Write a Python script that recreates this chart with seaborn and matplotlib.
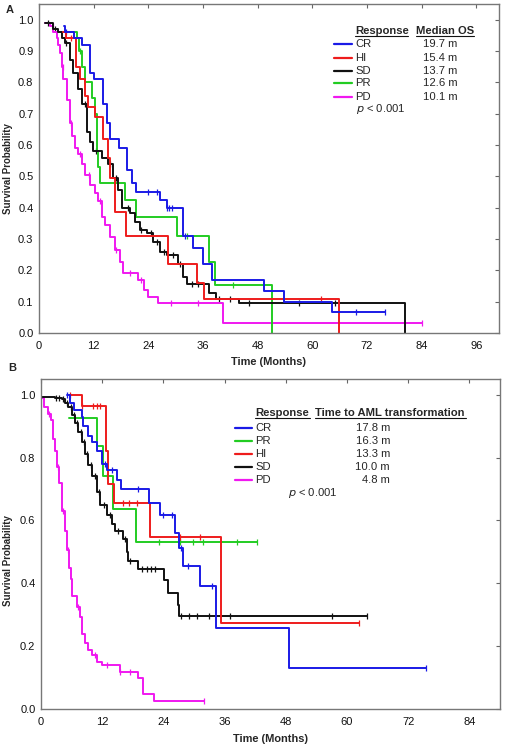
import numpy as np
import pandas as pd
import matplotlib.pyplot as plt
import seaborn as sns
from matplotlib.lines import Line2D

# ---- panel A: overall survival by response ----
a_cr_t = [5.5, 5.7, 7.7, 9.5, 11.2, 12.0, 14.0, 15.0, 15.6, 17.5, 19.3, 20.4, 21.4, 26.5, 28.0, 31.6, 33.8, 36.0, 38.0, 49.3, 53.7, 64.3, 76.0]
a_cr_s = [0.98, 0.96, 0.94, 0.92, 0.83, 0.81, 0.73, 0.67, 0.62, 0.59, 0.52, 0.48, 0.45, 0.425, 0.40, 0.31, 0.27, 0.22, 0.17, 0.134, 0.10, 0.067, 0.067]
a_cr_c = [6.0, 23.9, 25.9, 28.0, 28.6, 29.2, 32.0, 69.7, 76.0]

a_hi_t = [5.3, 6.0, 8.2, 9.0, 10.0, 10.8, 12.3, 14.0, 15.2, 15.6, 16.7, 19.1, 28.3, 34.6, 36.2, 65.8]
a_hi_s = [0.96, 0.94, 0.85, 0.81, 0.755, 0.72, 0.69, 0.62, 0.56, 0.495, 0.385, 0.31, 0.22, 0.16, 0.11, 0.0]
a_hi_c = [7.0, 62.0]

a_sd_t = [1.3, 3.0, 4.2, 5.0, 5.7, 6.8, 7.5, 8.6, 9.4, 10.5, 11.2, 11.8, 13.8, 15.1, 16.2, 17.3, 18.2, 20.0, 21.0, 22.1, 23.7, 25.0, 26.5, 28.0, 30.5, 31.6, 32.4, 37.3, 38.8, 44.0, 80.3]
a_sd_s = [0.99, 0.97, 0.96, 0.94, 0.925, 0.87, 0.83, 0.78, 0.73, 0.64, 0.61, 0.58, 0.56, 0.54, 0.495, 0.457, 0.40, 0.383, 0.355, 0.33, 0.32, 0.29, 0.26, 0.25, 0.22, 0.18, 0.157, 0.127, 0.11, 0.095, 0.0]
a_sd_c = [2.0, 3.5, 6.0, 10.0, 12.5, 15.5, 17.0, 19.5, 22.5, 24.5, 26.0, 27.5, 29.5, 31.0, 33.5, 35.0, 39.5, 42.0, 46.0, 57.0, 65.0]

a_pr_t = [5.5, 8.4, 8.8, 9.4, 10.1, 11.6, 12.2, 12.7, 13.0, 13.4, 18.9, 21.4, 30.2, 37.3, 38.6, 51.1]
a_pr_s = [0.96, 0.94, 0.90, 0.85, 0.80, 0.75, 0.70, 0.58, 0.53, 0.48, 0.425, 0.37, 0.31, 0.227, 0.153, 0.0]
a_pr_c = [9.0, 32.5, 42.5]

a_pd_t = [1.3, 2.4, 3.1, 3.9, 4.2, 4.6, 5.0, 5.3, 6.1, 6.8, 7.2, 7.9, 8.6, 9.4, 10.1, 11.2, 12.3, 12.9, 13.8, 14.5, 15.6, 16.7, 17.8, 18.4, 21.7, 23.0, 24.0, 26.1, 40.3, 84.2]
a_pd_s = [0.99, 0.98, 0.96, 0.94, 0.92, 0.895, 0.85, 0.81, 0.745, 0.67, 0.63, 0.59, 0.57, 0.54, 0.505, 0.473, 0.447, 0.42, 0.37, 0.345, 0.307, 0.265, 0.227, 0.19, 0.17, 0.137, 0.115, 0.096, 0.032, 0.032]
a_pd_c = [3.0, 5.2, 7.0, 9.0, 11.0, 13.5, 17.0, 20.0, 22.5, 29.0, 35.0, 84.2]

# ---- panel B: time to AML transformation ----
b_cr_t = [5.1, 5.7, 6.5, 8.0, 8.3, 9.2, 10.0, 11.0, 12.0, 13.0, 14.9, 15.7, 21.2, 23.3, 26.3, 27.0, 27.8, 31.2, 34.3, 48.6, 75.5]
b_cr_s = [1.0, 0.975, 0.95, 0.93, 0.90, 0.87, 0.85, 0.82, 0.78, 0.76, 0.73, 0.70, 0.655, 0.618, 0.56, 0.513, 0.455, 0.39, 0.258, 0.13, 0.13]
b_cr_c = [5.1, 12.5, 14.0, 19.0, 24.0, 25.7, 27.5, 28.8, 33.5, 75.5]

b_pr_t = [5.5, 10.9, 12.2, 14.2, 18.6, 42.4]
b_pr_s = [0.925, 0.838, 0.742, 0.637, 0.532, 0.532]
b_pr_c = [13.0, 23.2, 27.3, 29.8, 31.8, 38.4, 42.4]

b_hi_t = [5.7, 8.0, 12.7, 13.2, 14.3, 21.4, 35.3, 62.4]
b_hi_s = [1.0, 0.965, 0.82, 0.716, 0.655, 0.547, 0.273, 0.273]
b_hi_c = [5.7, 8.0, 10.2, 11.0, 11.6, 16.0, 17.3, 18.8, 27.3, 31.2, 62.4]

b_sd_t = [0.1, 2.7, 4.1, 4.7, 5.3, 6.0, 6.7, 7.3, 8.0, 8.6, 9.3, 10.0, 10.9, 11.6, 12.9, 13.9, 14.5, 16.1, 16.9, 17.1, 19.0, 24.1, 24.9, 26.9, 27.1, 63.9]
b_sd_s = [0.994, 0.99, 0.985, 0.975, 0.96, 0.936, 0.91, 0.88, 0.85, 0.81, 0.777, 0.74, 0.69, 0.65, 0.618, 0.59, 0.565, 0.54, 0.50, 0.47, 0.445, 0.41, 0.37, 0.33, 0.296, 0.296]
b_sd_c = [3.0, 3.6, 4.4, 5.0, 5.8, 6.5, 7.0, 7.8, 8.4, 9.0, 9.8, 10.5, 11.3, 12.3, 13.5, 15.0, 16.5, 17.5, 19.8, 20.8, 21.5, 22.3, 27.5, 29.0, 30.5, 33.0, 37.0, 57.0, 63.9]

b_pd_t = [0.2, 0.6, 1.3, 2.0, 2.4, 2.7, 3.1, 3.5, 4.1, 4.7, 5.1, 5.5, 5.8, 6.0, 7.0, 7.6, 8.0, 8.6, 9.2, 10.0, 10.9, 12.0, 15.5, 19.0, 20.0, 22.2, 32.0]
b_pd_s = [0.99, 0.96, 0.94, 0.92, 0.86, 0.82, 0.77, 0.72, 0.63, 0.565, 0.505, 0.45, 0.415, 0.36, 0.325, 0.293, 0.24, 0.21, 0.188, 0.172, 0.15, 0.14, 0.118, 0.10, 0.048, 0.025, 0.025]
b_pd_c = [1.6, 3.3, 4.4, 5.3, 7.3, 10.5, 13.0, 15.5, 17.5, 32.0]

colors = {"CR": "#1a1ae6", "HI": "#ee1c1c", "SD": "#111111", "PR": "#22cc22", "PD": "#f018f0"}

a_groups = ["CR", "HI", "SD", "PR", "PD"]
a_medians = ["19.7 m", "15.4 m", "13.7 m", "12.6 m", "10.1 m"]
b_groups = ["CR", "PR", "HI", "SD", "PD"]
b_medians = ["17.8 m", "16.3 m", "13.3 m", "10.0 m", "4.8 m"]

a_data = {"CR": (a_cr_t, a_cr_s, a_cr_c), "HI": (a_hi_t, a_hi_s, a_hi_c), "SD": (a_sd_t, a_sd_s, a_sd_c),
          "PR": (a_pr_t, a_pr_s, a_pr_c), "PD": (a_pd_t, a_pd_s, a_pd_c)}
b_data = {"CR": (b_cr_t, b_cr_s, b_cr_c), "PR": (b_pr_t, b_pr_s, b_pr_c), "HI": (b_hi_t, b_hi_s, b_hi_c),
          "SD": (b_sd_t, b_sd_s, b_sd_c), "PD": (b_pd_t, b_pd_s, b_pd_c)}

sns.set_theme(style="white")
plt.rcParams["font.family"] = ["Liberation Sans", "DejaVu Sans"]

W, H = 509, 748
fig = plt.figure(figsize=(W / 100, H / 100), dpi=100)
FS = 8.1


def fx(x):
    return x / W


def fy(y):
    return 1 - y / H


def build(data):
    rows, cens = [], []
    for g, (t, s, c) in data.items():
        for ti, si in zip(t, s):
            rows.append((g, ti, si))
        t = np.array(t)
        s = np.array(s)
        idx = np.clip(np.searchsorted(t, c, side="right") - 1, 0, None)
        for ci, si in zip(c, s[idx]):
            cens.append((g, ci, si))
    return (pd.DataFrame(rows, columns=["group", "time", "surv"]),
            pd.DataFrame(cens, columns=["group", "time", "surv"]))


def panel(ax, data, xmax, xticks, yticks):
    df, cdf = build(data)
    for g in ["PD", "PR", "SD", "HI", "CR"]:
        sns.lineplot(data=df[df.group == g], x="time", y="surv", color=colors[g],
                     drawstyle="steps-post", estimator=None, linewidth=1.4, ax=ax, legend=False)
        sns.scatterplot(data=cdf[cdf.group == g], x="time", y="surv", color=colors[g], marker="|",
                        s=22, linewidth=0.9, ax=ax, legend=False)
    ax.set_xlim(0, xmax)
    ax.set_ylim(0, 1.05)
    ax.set_xticks(xticks)
    ax.set_yticks(yticks)
    ax.set_yticklabels(["{:.1f}".format(v) for v in yticks])
    ax.tick_params(direction="in", length=3, width=0.8, color="#666666", top=True, right=True,
                   labelsize=8, labelcolor="#111111")
    ax.tick_params(axis="x", pad=5.5)
    ax.tick_params(axis="y", pad=4)
    for sp in ax.spines.values():
        sp.set_color("#777777")
        sp.set_linewidth(1.0)
    ax.set_ylabel("Survival Probability", fontsize=7, fontweight="bold")
    ax.set_xlabel("Time (Months)", fontsize=7.9, fontweight="bold")


def legend(groups, vals, x_line, y_rows, x_val, val_ha, head2, x_h2, y_head, x_p, y_p):
    fig.text(fx(x_line[1] + 3), fy(y_head), "Response", fontsize=FS, fontweight="bold",
             ha="left", va="center")
    fig.text(fx(x_h2), fy(y_head), head2, fontsize=FS, fontweight="bold", ha="left", va="center")
    for g, v, y in zip(groups, vals, y_rows):
        fig.add_artist(Line2D([fx(x_line[0]), fx(x_line[1])], [fy(y), fy(y)], color=colors[g],
                              linewidth=1.6, transform=fig.transFigure))
        fig.text(fx(x_line[1] + 3), fy(y), g, fontsize=FS, ha="left", va="center")
        fig.text(fx(x_val), fy(y), v, fontsize=FS, ha=val_ha, va="center")
    fig.text(fx(x_p), fy(y_p), r"$\it{p}$ < 0.001", fontsize=FS, ha="left", va="center")


# panel A
axA = fig.add_axes([fx(39), fy(333), fx(499) - fx(39), fy(4) - fy(333)])
panel(axA, a_data, 101, np.arange(0, 97, 12), np.round(np.arange(0, 1.01, 0.1), 1))
axA.yaxis.set_label_coords(-0.057, 0.5)
axA.xaxis.set_label_coords(0.498, -0.074)

# panel B
axB = fig.add_axes([fx(41), fy(709), fx(500) - fx(41), fy(379) - fy(709)])
panel(axB, b_data, 90, np.arange(0, 85, 12), np.round(np.arange(0, 1.01, 0.2), 1))
axB.yaxis.set_label_coords(-0.062, 0.45)
axB.xaxis.set_label_coords(0.50, -0.075)

fig.text(fx(10), fy(10), "A", fontsize=8, fontweight="bold", ha="center", va="center")
fig.text(fx(12), fy(368), "B", fontsize=8, fontweight="bold", ha="center", va="center")

legend(a_groups, a_medians, (334, 352), [44, 58, 71, 83, 97], 440, "center", "Median OS", 416, 31, 356, 109)
legend(b_groups, b_medians, (235, 252), [428, 441, 454, 467, 480], 390, "right",
       "Time to AML transformation", 315, 413, 288, 493)

# underlines of the legend headers
for x0, x1, y in [(355, 408, 36), (416, 474, 36), (255, 310, 418), (315, 466, 418)]:
    fig.add_artist(Line2D([fx(x0), fx(x1)], [fy(y), fy(y)], color="#111111", linewidth=0.8,
                          transform=fig.transFigure))

fig.savefig("out.png", dpi=100)
